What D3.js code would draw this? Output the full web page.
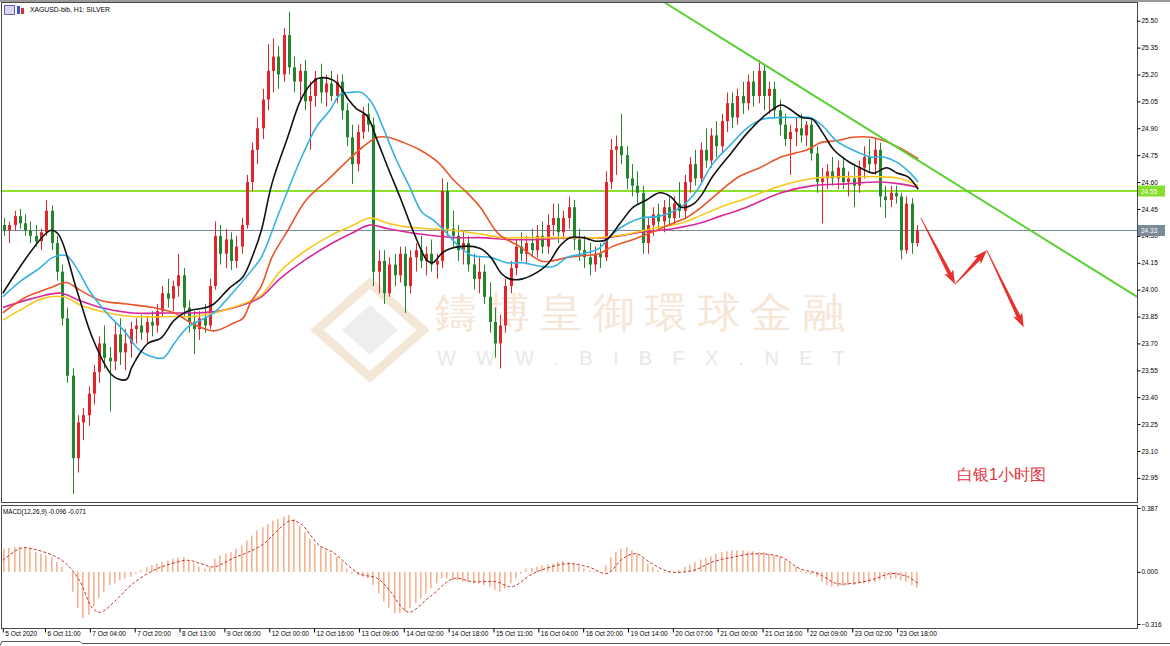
<!DOCTYPE html>
<html>
<head>
<meta charset="utf-8">
<script src="https://cdn.jsdelivr.net/npm/d3@7"></script>
<style>
body{margin:0;background:#fff;}
svg{display:block;}
text{font-family:"Liberation Sans",Arial,sans-serif;}
</style>
</head>
<body>
<script>
// 2-hour candles [open, high, low, close], XAGUSD 5-23 Oct 2020
var candles = [
[24.36,24.40,24.30,24.33],[24.33,24.38,24.26,24.36],[24.36,24.44,24.33,24.41],[24.41,24.45,24.34,24.37],
[24.37,24.42,24.30,24.33],[24.33,24.38,24.26,24.30],[24.30,24.36,24.24,24.27],[24.27,24.34,24.22,24.32],
[24.32,24.50,24.30,24.44],[24.44,24.47,24.22,24.26],[24.26,24.30,24.05,24.10],[24.10,24.14,23.80,23.84],
[23.84,23.90,23.48,23.52],[23.52,23.56,22.86,23.06],[23.06,23.30,22.98,23.26],[23.26,23.34,23.16,23.30],
[23.30,23.46,23.24,23.42],[23.42,23.58,23.36,23.54],[23.54,23.74,23.48,23.70],[23.70,23.80,23.56,23.62],
[23.62,23.68,23.32,23.60],[23.60,23.82,23.55,23.75],[23.75,23.84,23.58,23.65],[23.65,23.78,23.55,23.70],
[23.70,23.82,23.62,23.78],[23.78,23.84,23.70,23.80],[23.80,23.86,23.72,23.76],[23.76,23.85,23.70,23.82],
[23.82,23.88,23.74,23.80],[23.80,23.92,23.76,23.88],[23.88,24.02,23.85,23.98],[23.98,24.06,23.90,23.95],
[23.95,24.05,23.88,24.02],[24.02,24.20,23.96,24.08],[24.08,24.12,23.85,23.90],[23.90,23.94,23.76,23.82],
[23.82,23.88,23.64,23.78],[23.78,23.88,23.72,23.84],[23.84,23.92,23.76,23.80],[23.80,24.06,23.78,24.02],
[24.02,24.38,24.00,24.30],[24.30,24.36,24.14,24.20],[24.20,24.34,24.12,24.28],[24.28,24.32,24.11,24.16],
[24.16,24.30,24.12,24.24],[24.24,24.40,24.20,24.36],[24.36,24.64,24.34,24.60],[24.60,24.82,24.55,24.78],
[24.78,24.96,24.70,24.90],[24.90,25.12,24.84,25.06],[25.06,25.37,25.00,25.22],[25.22,25.40,25.10,25.30],
[25.30,25.36,25.12,25.20],[25.20,25.46,25.16,25.42],[25.42,25.55,25.20,25.24],[25.24,25.30,25.10,25.16],
[25.16,25.26,25.05,25.22],[25.22,25.28,25.00,25.05],[25.05,25.16,24.78,25.08],[25.08,25.22,25.02,25.18],
[25.18,25.26,25.04,25.10],[25.10,25.20,25.02,25.15],[25.15,25.22,25.05,25.08],[25.08,25.20,25.04,25.16],
[25.16,25.20,24.95,25.00],[25.00,25.04,24.80,24.85],[24.85,24.92,24.59,24.70],[24.70,24.92,24.66,24.88],
[24.88,25.02,24.84,24.98],[24.98,25.04,24.88,24.92],[24.92,24.96,24.02,24.10],[24.10,24.22,23.98,24.16],
[24.16,24.22,23.92,23.98],[23.98,24.18,23.96,24.14],[24.14,24.20,24.02,24.08],[24.08,24.24,24.04,24.20],
[24.20,24.24,23.87,24.02],[24.02,24.22,23.98,24.18],[24.18,24.26,24.10,24.22],[24.22,24.30,24.12,24.16],
[24.16,24.24,24.08,24.20],[24.20,24.28,24.10,24.14],[24.14,24.20,24.06,24.16],[24.16,24.62,24.12,24.55],
[24.55,24.60,24.30,24.34],[24.34,24.44,24.24,24.30],[24.30,24.36,24.16,24.22],[24.22,24.32,24.14,24.26],
[24.26,24.30,24.10,24.14],[24.14,24.20,24.00,24.06],[24.06,24.18,23.98,24.10],[24.10,24.14,23.92,23.96],
[23.96,24.04,23.76,23.82],[23.82,23.90,23.62,23.70],[23.70,23.86,23.56,23.80],[23.80,24.06,23.76,24.02],
[24.02,24.16,23.98,24.12],[24.12,24.28,24.08,24.24],[24.24,24.32,24.16,24.20],[24.20,24.30,24.14,24.26],
[24.26,24.34,24.18,24.22],[24.22,24.36,24.18,24.30],[24.30,24.38,24.20,24.24],[24.24,24.42,24.20,24.36],
[24.36,24.48,24.30,24.40],[24.40,24.48,24.26,24.32],[24.32,24.44,24.28,24.40],[24.40,24.52,24.34,24.46],
[24.46,24.50,24.22,24.28],[24.28,24.34,24.16,24.22],[24.22,24.30,24.12,24.18],[24.18,24.26,24.08,24.14],
[24.14,24.24,24.10,24.20],[24.20,24.26,24.12,24.18],[24.18,24.66,24.16,24.60],[24.60,24.84,24.56,24.78],
[24.78,24.86,24.64,24.80],[24.80,24.98,24.70,24.75],[24.75,24.80,24.56,24.62],[24.62,24.70,24.52,24.58],
[24.58,24.66,24.48,24.54],[24.54,24.58,24.20,24.26],[24.26,24.40,24.20,24.36],[24.36,24.46,24.30,24.42],
[24.42,24.48,24.34,24.38],[24.38,24.50,24.32,24.46],[24.46,24.52,24.36,24.40],[24.40,24.52,24.36,24.48],
[24.48,24.60,24.40,24.44],[24.44,24.64,24.40,24.60],[24.60,24.74,24.54,24.70],[24.70,24.78,24.58,24.62],
[24.62,24.82,24.60,24.78],[24.78,24.90,24.68,24.72],[24.72,24.90,24.68,24.86],[24.86,24.94,24.74,24.80],
[24.80,24.98,24.76,24.94],[24.94,25.10,24.88,25.04],[25.04,25.10,24.90,24.96],[24.96,25.12,24.92,25.08],
[25.08,25.16,24.98,25.04],[25.04,25.20,25.00,25.16],[25.16,25.22,25.02,25.08],[25.08,25.28,25.04,25.22],
[25.22,25.26,25.00,25.08],[25.08,25.16,24.98,25.12],[25.12,25.16,24.96,25.00],[25.00,25.06,24.86,24.92],
[24.92,24.98,24.80,24.84],[24.84,24.92,24.64,24.88],[24.88,24.96,24.80,24.90],[24.90,24.98,24.82,24.86],
[24.86,24.94,24.80,24.92],[24.92,24.96,24.72,24.76],[24.76,24.80,24.54,24.60],[24.60,24.68,24.37,24.62],
[24.62,24.70,24.56,24.66],[24.66,24.74,24.58,24.62],[24.62,24.72,24.56,24.68],[24.68,24.74,24.56,24.60],
[24.60,24.66,24.52,24.62],[24.62,24.70,24.46,24.58],[24.58,24.72,24.54,24.68],[24.68,24.80,24.62,24.74],
[24.74,24.84,24.66,24.70],[24.70,24.84,24.64,24.78],[24.78,24.82,24.46,24.52],[24.52,24.58,24.40,24.50],
[24.50,24.58,24.46,24.54],[24.54,24.58,24.48,24.52],[24.52,24.54,24.17,24.22],[24.22,24.52,24.20,24.48],
[24.48,24.51,24.20,24.26],[24.26,24.36,24.24,24.33]
];

// moving averages, [hour bar, price]
var maBlack = [[0,23.98],[18,24.33],[21,24.31],[28,24.00],[34,23.73],[41,23.53],[44,23.50],[47,23.50],[49,23.57],[55,23.70],[60,23.73],[65,23.83],[70,23.88],[77,23.90],[80,23.92],[86,24.01],[91,24.07],[95,24.20],[98,24.33],[102,24.59],[108,24.85],[113,25.06],[117,25.15],[120,25.18],[125,25.17],[128,25.13],[131,25.06],[134,25.01],[138,24.97],[142,24.83],[146,24.68],[151,24.50],[156,24.31],[161,24.16],[163,24.15],[167,24.21],[173,24.24],[181,24.23],[185,24.18],[189,24.09],[192,24.06],[197,24.06],[204,24.11],[207,24.15],[211,24.24],[215,24.29],[220,24.29],[225,24.27],[229,24.28],[234,24.37],[239,24.46],[244,24.50],[249,24.54],[253,24.52],[257,24.46],[259,24.46],[262,24.48],[265,24.53],[269,24.63],[276,24.76],[282,24.87],[288,24.96],[295,25.03],[298,25.01],[303,24.96],[307,24.95],[311,24.87],[315,24.78],[320,24.72],[325,24.68],[330,24.65],[335,24.68],[339,24.65],[343,24.63],[347,24.56]];
var maCyan = [[0,23.96],[7,24.05],[14,24.12],[19,24.18],[24,24.19],[28,24.12],[33,23.99],[40,23.86],[46,23.77],[52,23.66],[58,23.62],[61,23.62],[65,23.70],[70,23.79],[75,23.83],[80,23.87],[87,23.98],[95,24.12],[98,24.18],[105,24.44],[113,24.73],[119,24.91],[124,25.00],[128,25.09],[132,25.10],[136,25.10],[140,25.04],[144,24.91],[149,24.73],[154,24.58],[159,24.43],[163,24.39],[168,24.32],[173,24.24],[178,24.19],[185,24.18],[191,24.15],[197,24.15],[204,24.13],[209,24.13],[214,24.18],[220,24.20],[226,24.23],[231,24.31],[237,24.37],[242,24.40],[249,24.41],[257,24.46],[263,24.55],[269,24.70],[276,24.81],[282,24.90],[288,24.95],[295,24.96],[301,24.96],[306,24.96],[311,24.91],[316,24.83],[322,24.78],[329,24.74],[334,24.74],[339,24.71],[344,24.65],[347,24.60]];
var maOrange = [[0,23.87],[9,23.96],[18,24.01],[24,24.04],[29,24.00],[37,23.94],[47,23.92],[57,23.90],[65,23.87],[72,23.81],[80,23.77],[87,23.81],[91,23.84],[94,23.93],[98,24.02],[102,24.18],[108,24.33],[115,24.50],[123,24.61],[130,24.71],[136,24.79],[142,24.85],[146,24.85],[152,24.82],[158,24.78],[165,24.71],[171,24.61],[176,24.54],[181,24.46],[188,24.31],[196,24.24],[204,24.16],[208,24.16],[214,24.18],[220,24.19],[226,24.20],[231,24.24],[239,24.28],[246,24.32],[254,24.37],[259,24.40],[264,24.45],[272,24.55],[279,24.63],[287,24.68],[295,24.74],[300,24.76],[305,24.78],[310,24.82],[316,24.83],[322,24.85],[329,24.85],[334,24.83],[340,24.79],[347,24.73]];
var maYellow = [[0,23.83],[7,23.89],[15,23.95],[23,23.96],[30,23.91],[40,23.87],[49,23.85],[65,23.85],[72,23.85],[80,23.87],[87,23.90],[98,23.97],[105,24.10],[114,24.21],[124,24.30],[133,24.36],[139,24.40],[146,24.37],[153,24.35],[161,24.34],[171,24.33],[181,24.31],[189,24.29],[197,24.29],[207,24.29],[216,24.29],[226,24.29],[237,24.31],[246,24.34],[257,24.37],[264,24.41],[272,24.46],[282,24.51],[295,24.58],[307,24.62],[320,24.63],[332,24.63],[340,24.62],[347,24.58]];
var maMagenta = [[0,23.90],[11,23.95],[22,23.98],[29,23.94],[37,23.90],[49,23.87],[62,23.87],[72,23.87],[82,23.88],[90,23.91],[98,23.96],[105,24.06],[115,24.17],[125,24.26],[133,24.32],[139,24.36],[146,24.34],[158,24.31],[171,24.29],[181,24.29],[191,24.28],[204,24.28],[216,24.29],[229,24.29],[242,24.32],[254,24.34],[264,24.37],[272,24.41],[282,24.46],[295,24.54],[307,24.58],[320,24.59],[332,24.60],[340,24.59],[347,24.57]];

// MACD(12,26,9): histogram per 2h candle, signal as [hour bar, value]
var macdHist = [0.14,0.145,0.15,0.15,0.145,0.14,0.12,0.11,0.10,0.09,0.06,0.03,0.0,-0.12,-0.22,-0.28,-0.26,-0.21,-0.16,-0.12,
-0.08,-0.07,-0.05,-0.04,-0.03,-0.01,0.01,0.03,0.04,0.05,0.06,0.07,0.08,0.085,0.09,0.07,0.05,0.03,0.02,0.03,
0.08,0.10,0.11,0.12,0.14,0.16,0.19,0.22,0.25,0.27,0.29,0.31,0.32,0.335,0.345,0.32,0.28,0.24,0.20,0.17,
0.15,0.13,0.11,0.09,0.06,0.02,-0.01,-0.02,-0.03,-0.04,-0.08,-0.13,-0.18,-0.22,-0.25,-0.25,-0.24,-0.22,-0.19,-0.16,
-0.13,-0.10,-0.07,-0.04,-0.04,-0.05,-0.05,-0.06,-0.06,-0.07,-0.07,-0.08,-0.09,-0.11,-0.12,-0.10,-0.07,-0.04,-0.01,0.02,
0.025,0.03,0.04,0.045,0.05,0.06,0.065,0.06,0.05,0.035,0.02,0.01,0.005,0.0,0.04,0.09,0.12,0.14,0.15,0.13,
0.11,0.08,0.05,0.03,0.01,0.0,-0.005,0.0,0.01,0.03,0.045,0.06,0.075,0.085,0.095,0.11,0.12,0.125,0.13,0.13,
0.13,0.125,0.125,0.12,0.12,0.11,0.10,0.09,0.07,0.05,0.03,0.01,-0.01,-0.015,-0.03,-0.06,-0.08,-0.09,-0.09,-0.085,
-0.08,-0.08,-0.07,-0.07,-0.065,-0.06,-0.05,-0.045,-0.045,-0.04,-0.05,-0.06,-0.08,-0.096];
var macdSignal = [[0,0.07],[7,0.145],[11,0.14],[19,0.10],[24,0.05],[29,-0.05],[34,-0.22],[37,-0.245],[43,-0.17],[49,-0.075],[56,0.0],[62,0.04],[70,0.07],[75,0.05],[80,0.03],[87,0.08],[98,0.16],[109,0.31],[113,0.29],[120,0.16],[125,0.12],[135,-0.01],[142,-0.04],[147,-0.12],[151,-0.21],[154,-0.245],[162,-0.15],[171,-0.04],[178,-0.06],[187,-0.06],[193,-0.09],[200,-0.02],[204,0.01],[214,0.05],[222,0.03],[229,-0.01],[235,0.08],[240,0.11],[246,0.05],[253,0.0],[262,0.01],[269,0.06],[277,0.09],[285,0.11],[295,0.09],[302,0.02],[309,-0.01],[316,-0.07],[322,-0.07],[329,-0.05],[337,-0.01],[343,-0.03],[347,-0.071]];

var priceTicks = [25.50,25.35,25.20,25.05,24.90,24.75,24.60,24.45,24.30,24.15,24.00,23.85,23.70,23.55,23.40,23.25,23.10,22.95];
var macdTicks = [0.387,0.0,-0.316];
var timeTicks = [0,16,33,50,67,84,101,118,135,152,169,186,203,220,237,254,271,288,305,322,339];
var timeLabels = ["5 Oct 2020","6 Oct 11:00","7 Oct 04:00","7 Oct 20:00","8 Oct 13:00","9 Oct 06:00","12 Oct 00:00","12 Oct 16:00","13 Oct 09:00","14 Oct 02:00","14 Oct 18:00","15 Oct 11:00","16 Oct 04:00","16 Oct 20:00","19 Oct 14:00","20 Oct 07:00","21 Oct 00:00","21 Oct 16:00","22 Oct 09:00","23 Oct 02:00","23 Oct 18:00"];
var levelPrice = 24.55;
var bidPrice = 24.33;
var trendLine = [[251,25.60],[430,23.96]];
var arrowPath = [[348,24.40],[361,24.03],[373,24.22],[387,23.79]];

var svg = d3.select("body").append("svg").attr("width",1170).attr("height",646);

var x = d3.scaleLinear().domain([0,347]).range([2.8,918.2]);
var y = d3.scaleLinear().domain([22.95,25.50]).range([477.9,20.7]);
var ym = d3.scaleLinear().domain([-0.316,0.387]).range([624,508]);

svg.append("defs").append("clipPath").attr("id","mainclip")
  .append("rect").attr("x",2).attr("y",3).attr("width",1135).attr("height",499);

// window frame
svg.append("rect").attr("x",0).attr("y",0).attr("width",1170).attr("height",2).attr("fill","#9a9a9a");

// watermark
var wm = svg.append("g");
wm.append("polygon").attr("points","370,283 423,330 370,377 317,330").attr("fill","none").attr("stroke","#f5e7d8").attr("stroke-width",9);
wm.append("polygon").attr("points","370,305 398,330 370,355 342,330").attr("fill","#eeeeee");
wm.append("text").attr("x",435).attr("y",327).attr("font-size",42)
  .attr("font-family","'Noto Sans CJK TC'").attr("fill","#f6e6d6")
  .attr("textLength",410).attr("lengthAdjust","spacing").text("鑄博皇御環球金融");
wm.append("text").attr("x",437).attr("y",365).attr("font-size",20).attr("fill","#e8e8e8")
  .attr("textLength",408).attr("lengthAdjust","spacing").text("WWW.BIBFX.NET");

var main = svg.append("g").attr("clip-path","url(#mainclip)");

// bid line and level line
main.append("line").attr("x1",2).attr("x2",1137).attr("y1",y(bidPrice)).attr("y2",y(bidPrice))
  .attr("stroke","#7a8896").attr("stroke-width",1);
main.append("line").attr("x1",2).attr("x2",1137).attr("y1",y(levelPrice)).attr("y2",y(levelPrice))
  .attr("stroke","#8ee02a").attr("stroke-width",2);

// candles
var cg = main.append("g");
cg.selectAll("line").data(candles).enter().append("line")
  .attr("x1",function(d,i){return Math.round(x(2*i+0.5))+0.5;})
  .attr("x2",function(d,i){return Math.round(x(2*i+0.5))+0.5;})
  .attr("y1",function(d){return y(d[1]);})
  .attr("y2",function(d){return y(d[2]);})
  .attr("stroke",function(d){return d[3]>=d[0]?"#e3242b":"#23862a";});
cg.selectAll("rect").data(candles).enter().append("rect")
  .attr("x",function(d,i){return Math.round(x(2*i+0.5))-1;})
  .attr("width",3)
  .attr("y",function(d){return y(Math.max(d[0],d[3]));})
  .attr("height",function(d){return Math.max(1,Math.abs(y(d[0])-y(d[3])));})
  .attr("fill",function(d){return d[3]>=d[0]?"#e3242b":"#23862a";});

// moving averages
var maLine = d3.line().x(function(d){return x(d[0]);}).y(function(d){return y(d[1]);}).curve(d3.curveCatmullRom.alpha(0.5));
var mas = [[maMagenta,"#d8289b"],[maYellow,"#f6c81c"],[maOrange,"#e8562a"],[maCyan,"#35b2e0"],[maBlack,"#111111"]];
mas.forEach(function(m){
  main.append("path").attr("d",maLine(m[0])).attr("fill","none").attr("stroke",m[1]).attr("stroke-width",1.6);
});

// trend line
main.append("line").attr("x1",x(trendLine[0][0])).attr("y1",y(trendLine[0][1]))
  .attr("x2",x(trendLine[1][0])).attr("y2",y(trendLine[1][1]))
  .attr("stroke","#5ad134").attr("stroke-width",2);

// red arrows
function arrowPoints(p0,p1){
  var dx=p1[0]-p0[0], dy=p1[1]-p0[1], len=Math.sqrt(dx*dx+dy*dy);
  var ux=dx/len, uy=dy/len, nx=-uy, ny=ux;
  var L=12, hw=5, s0=0.4, s1=2;
  var bx=p1[0]-ux*L, by=p1[1]-uy*L;
  var pts=[[p0[0]+nx*s0,p0[1]+ny*s0],[bx+nx*s1,by+ny*s1],[bx+nx*hw-ux*2,by+ny*hw-uy*2],p1,
           [bx-nx*hw-ux*2,by-ny*hw-uy*2],[bx-nx*s1,by-ny*s1],[p0[0]-nx*s0,p0[1]-ny*s0]];
  return pts.map(function(p){return p[0].toFixed(1)+","+p[1].toFixed(1);}).join(" ");
}
for (var a = 0; a < arrowPath.length-1; a++) {
  var p0 = [x(arrowPath[a][0]), y(arrowPath[a][1])];
  var p1 = [x(arrowPath[a+1][0]), y(arrowPath[a+1][1])];
  main.append("polygon").attr("points",arrowPoints(p0,p1)).attr("fill","#e8302c");
}

// chinese caption
svg.append("text").attr("x",957).attr("y",480).attr("font-size",16)
  .attr("font-family","'Noto Sans CJK SC'").attr("fill","#e2343c").text("白银1小时图");

// MACD panel
var mg = svg.append("g");
mg.selectAll("rect").data(macdHist).enter().append("rect")
  .attr("x",function(d,i){return Math.round(x(2*i+0.5))-1;})
  .attr("width",1.6)
  .attr("y",function(d){return Math.min(ym(0),ym(d));})
  .attr("height",function(d){return Math.max(0.5,Math.abs(ym(d)-ym(0)));})
  .attr("fill","#f6b293");
var sigLine = d3.line().x(function(d){return x(d[0]);}).y(function(d){return ym(d[1]);}).curve(d3.curveCatmullRom.alpha(0.5));
mg.append("path").attr("d",sigLine(macdSignal)).attr("fill","none").attr("stroke","#c4352a")
  .attr("stroke-width",1).attr("stroke-dasharray","3,2");

// panel borders
svg.append("rect").attr("x",1.5).attr("y",2.5).attr("width",1136).attr("height",500)
  .attr("fill","none").attr("stroke","#4a4a4a");
svg.append("rect").attr("x",1.5).attr("y",505.5).attr("width",1136).attr("height",123)
  .attr("fill","none").attr("stroke","#4a4a4a");

// price axis
var pa = svg.append("g").attr("transform","translate(1137.5,0)")
  .call(d3.axisRight(y).tickValues(priceTicks).tickFormat(d3.format(".2f")).tickSize(3).tickPadding(1));
pa.select(".domain").remove();
pa.selectAll("text").attr("font-size",6.5).attr("font-family","'Liberation Sans',Arial");

var ma2 = svg.append("g").attr("transform","translate(1137.5,0)")
  .call(d3.axisRight(ym).tickValues(macdTicks).tickFormat(d3.format(".3f")).tickSize(3).tickPadding(1));
ma2.select(".domain").remove();
ma2.selectAll("text").attr("font-size",6.5).attr("font-family","'Liberation Sans',Arial");

// price boxes
function priceBox(p, fill){
  var g = svg.append("g").attr("transform","translate(1138,"+y(p)+")");
  g.append("rect").attr("x",0).attr("y",-5.5).attr("width",27).attr("height",11).attr("fill",fill);
  g.append("text").attr("x",3).attr("y",2.5).attr("font-size",6.5).attr("fill","#fff").text(d3.format(".2f")(p));
}
priceBox(levelPrice,"#86dd2a");
priceBox(bidPrice,"#7b8a99");

// time axis
var ta = svg.append("g").attr("transform","translate(0,628.5)")
  .call(d3.axisBottom(x).tickValues(timeTicks).tickFormat(function(d,i){return timeLabels[i];}).tickSize(4));
ta.select(".domain").remove();
ta.selectAll("text").attr("font-size",6.5).attr("text-anchor","start").attr("x",2).attr("y",3)
  .attr("font-family","'Liberation Sans',Arial");

// labels
svg.append("text").attr("x",30).attr("y",12).attr("font-size",6.8).text("XAGUSD-bib, H1:  SILVER");
svg.append("text").attr("x",3).attr("y",514).attr("font-size",6.3).text("MACD(12,26,9) -0.096 -0.071");
// header icons
svg.append("rect").attr("x",4.5).attr("y",5.5).attr("width",10).attr("height",9).attr("fill","#dcd6f0").attr("stroke","#6a5fb0");
svg.append("rect").attr("x",17).attr("y",6).attr("width",3).attr("height",8).attr("fill","#3a55c8");
svg.append("rect").attr("x",21).attr("y",8).attr("width",3).attr("height",6).attr("fill","#d8302a");

// bottom tab strip
svg.append("line").attr("x1",82).attr("x2",1170).attr("y1",643.5).attr("y2",643.5).attr("stroke","#555");
svg.append("path").attr("d","M0,645.5 L2,641.5 L80,641.5 L82,643.5").attr("fill","none").attr("stroke","#555");
</script>
</body>
